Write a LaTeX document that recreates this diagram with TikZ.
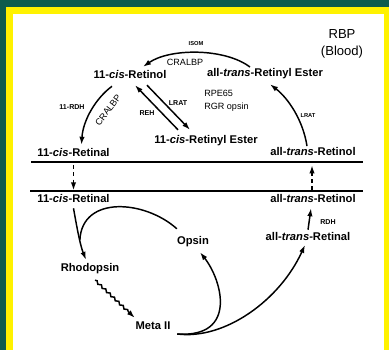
\documentclass[tikz,border=0pt]{standalone}
\usepackage{fontspec}
\setmainfont{Liberation Sans}
\usepackage{tikz}
\usetikzlibrary{arrows.meta, decorations.pathmorphing}
\definecolor{frame-teal}{HTML}{0D5C4D}
\definecolor{frame-yellow}{HTML}{FFF200}

\begin{document}
\begin{tikzpicture}[
    x=0.75pt, y=-0.75pt,
    lbl/.style={font=\fontsize{8.4}{10}\selectfont\bfseries, inner sep=1pt, text height=6.2pt, text depth=1.8pt},
    enz/.style={font=\fontsize{5.3}{6}\selectfont\bfseries, inner sep=0pt},
    enzsmall/.style={font=\fontsize{4.3}{5}\selectfont\bfseries, inner sep=0pt},
    prot/.style={font=\fontsize{6.8}{9.75}\selectfont, inner sep=0pt},
    arr/.style={-{Latex[length=6pt,width=4pt]}, line width=1.1pt},
    dasharr/.style={arr, dash pattern=on 3pt off 2.5pt},
    membrane/.style={line width=2.2pt}
]
    \useasboundingbox (0,0) rectangle (389,350);
    \fill[frame-teal] (0,0) rectangle (389,350);
    \fill[frame-yellow] (6,7) rectangle (389,350);
    \fill[white] (13,14) rectangle (384,350);

    \node[lbl] (retinol11) at (130,76) {11-\textit{cis}-Retinol};
    \node[lbl] (atre) at (265,74) {all-\textit{trans}-Retinyl Ester};
    \node[lbl] (cisre) at (206,141) {11-\textit{cis}-Retinyl Ester};
    \node[lbl] (ralup) at (73.5,154) {11-\textit{cis}-Retinal};
    \node[lbl] (rolup) at (313,153) {all-\textit{trans}-Retinol};
    \node[lbl] (rallow) at (73.5,200) {11-\textit{cis}-Retinal};
    \node[lbl] (rollow) at (313,200) {all-\textit{trans}-Retinol};
    \node[lbl] (atral) at (308,238) {all-\textit{trans}-Retinal};
    \node[lbl] (opsin) at (193,242) {Opsin};
    \node[lbl] (rhodo) at (90,269) {Rhodopsin};
    \node[lbl] (meta) at (153,327) {Meta II};

    \node[font=\fontsize{9.8}{12.75}\selectfont, align=center] (rbp) at (342,43.5) {RBP\\(Blood)};
    \node[prot, align=left, anchor=west] (rpe) at (204,100.5) {RPE65\\RGR opsin};
    \node[prot] (cralbp1) at (185,62) {CRALBP};
    \node[prot, rotate=53] (cralbp2) at (108,110) {CRALBP};
    \node[enzsmall] (isom) at (196,44) {ISOM};
    \node[enzsmall] (lrat2) at (308,116) {LRAT};
    \node[enz] (rdh11) at (72,107) {11-RDH};
    \node[enz] (reh) at (147,113) {REH};
    \node[enz] (lrat1) at (178,103) {LRAT};
    \node[enz] (rdh) at (328,222) {RDH};

    \draw[membrane] (31,162) -- (363,162);
    \draw[membrane] (30,191) -- (363,191);

    \draw[arr] ([xshift=-11.25pt]atre.north) .. controls (225,48) and (170,48) .. ([xshift=9.75pt,yshift=1.7pt]retinol11.north);
    \draw[arr] ([xshift=-13.5pt,yshift=-2.5pt]retinol11.south) .. controls (96,98) and (83,120) .. ([xshift=6pt,yshift=1.7pt]ralup.north);
    \draw[arr] ([xshift=-21pt,yshift=3.2pt]cisre.north) -- ([xshift=3.75pt,yshift=-1.7pt]retinol11.south);
    \draw[arr] ([xshift=12.75pt,yshift=-1.7pt]retinol11.south) -- ([xshift=-12pt,yshift=3.2pt]cisre.north);
    \draw[arr] ([xshift=-4.5pt]rolup.north) .. controls (303,120) and (288,98) .. ([xshift=3.75pt,yshift=-2.5pt]atre.south);

    \draw[dasharr] ([yshift=-3pt]ralup.south) -- ([yshift=2pt]rallow.north);
    \draw[dasharr] ([xshift=-0.75pt,yshift=2pt]rollow.north) -- ([xshift=-0.75pt,yshift=-4pt]rolup.south);
    \draw[arr] ([yshift=1pt]atral.north) -- ([xshift=-1.5pt,yshift=-1pt]rollow.south);

    \draw[arr] ([yshift=-1pt]rallow.south) .. controls +(3,17) and +(-6,-15) .. coordinate[pos=0.6] (merge) ([xshift=-3pt,yshift=1.7pt]rhodo.north);
    \draw[line width=1.1pt] ([xshift=1pt,yshift=4.7pt]opsin.north west) .. controls (145,200) and (82,195) .. (merge);
    \draw[arr, decorate, decoration={snake, amplitude=0.8pt, segment length=4.5pt, post length=6pt}] ([xshift=3.75pt,yshift=-3.2pt]rhodo.south) -- ([xshift=0.6pt,yshift=1.7pt]meta.north west);
    \draw[arr] ([xshift=3.9pt,yshift=-5.25pt]meta.east) .. controls (238,338) and (222,280) .. ([xshift=5.25pt,yshift=-2.5pt]opsin.south);
    \draw[arr] ([xshift=3.9pt,yshift=-5.25pt]meta.east) .. controls (225,340) and (280,300) .. ([xshift=-2.25pt]atral.south);
\end{tikzpicture}
\end{document}
